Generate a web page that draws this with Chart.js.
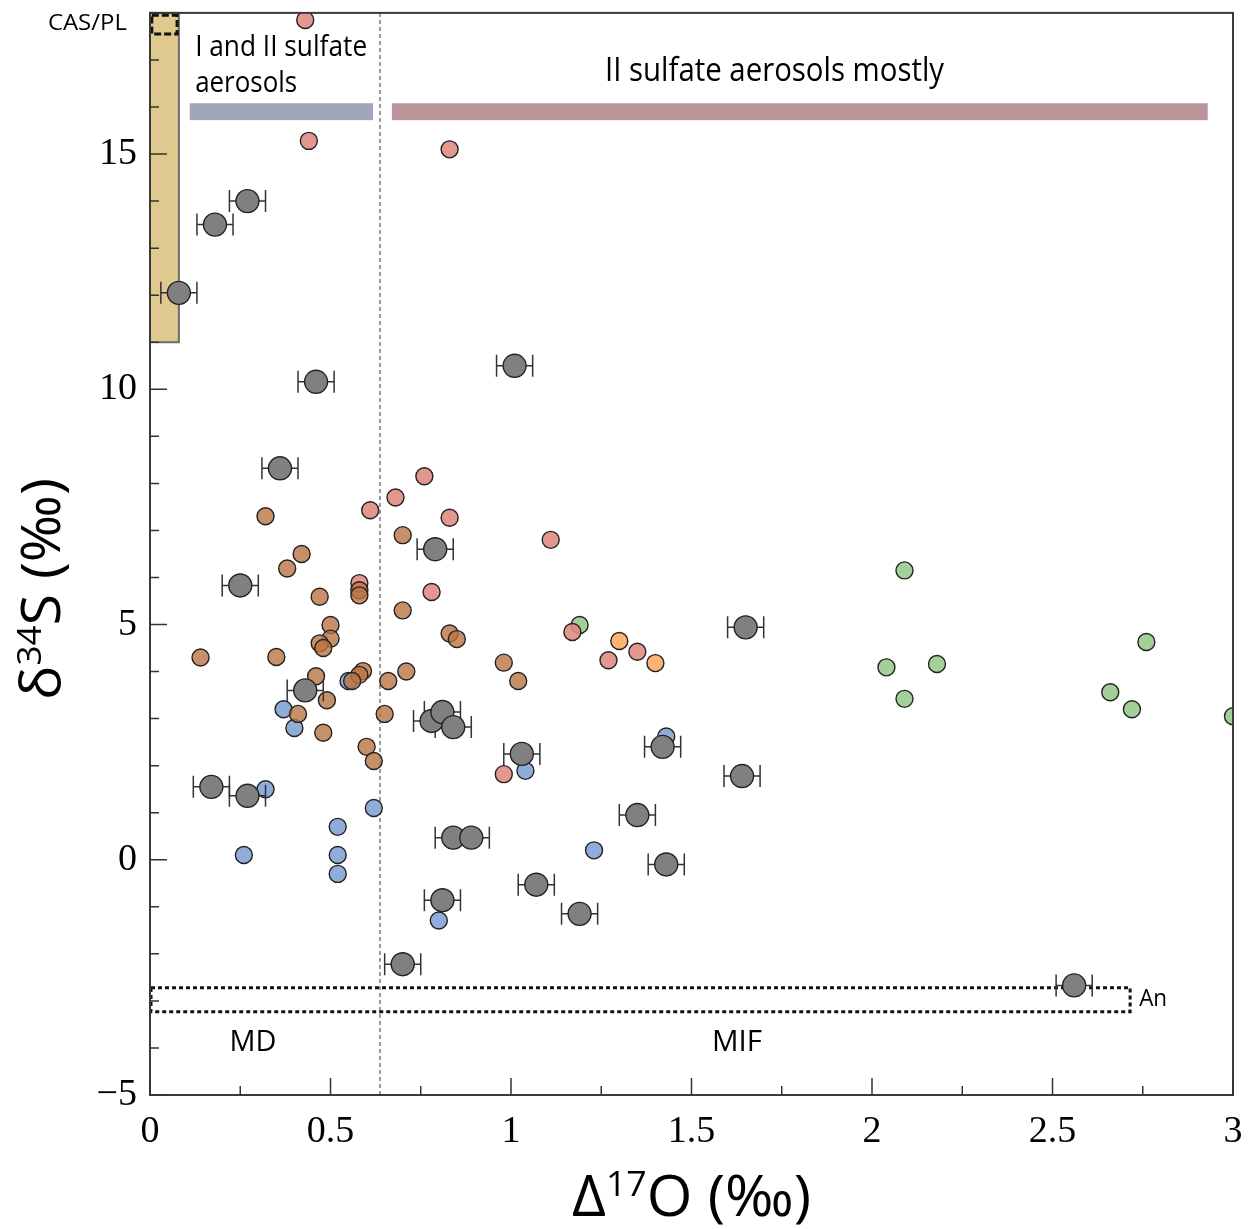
<!DOCTYPE html>
<html>
<head>
<meta charset="utf-8">
<script src="https://cdn.jsdelivr.net/npm/chart.js@4.4.1/dist/chart.umd.min.js"></script>
<style>
    html, body { margin: 0; padding: 0; background: #fff; }
</style>
</head>
<body>
<canvas id="isotope-chart" width="1250" height="1229"></canvas>
<script>
// axis ranges
const xMin = 0, xMax = 3
const yMin = -5, yMax = 18

// bulk samples with error bars (grey)
const greyX = [0.08, 0.18, 0.27, 0.46, 0.36, 0.25, 0.79, 0.43, 0.17, 0.27, 1.01, 1.65, 0.78, 0.81, 0.84, 1.03, 1.42, 1.64, 1.35, 0.84, 0.89, 1.43, 1.07, 1.19, 0.81, 0.70, 2.56]
const greyY = [12.05, 13.5, 14.0, 10.16, 8.32, 5.83, 6.6, 3.6, 1.55, 1.36, 10.5, 4.94, 2.95, 3.14, 2.82, 2.25, 2.40, 1.78, 0.95, 0.47, 0.47, -0.1, -0.53, -1.15, -0.86, -2.22, -2.67]
const greyErr = 0.05

const brownX = [0.32, 0.70, 0.42, 0.38, 0.47, 0.58, 0.58, 0.70, 0.50, 0.50, 0.47, 0.48, 0.14, 0.35, 0.83, 0.85, 0.98, 1.02, 0.71, 0.66, 0.46, 0.59, 0.58, 0.56, 0.49, 0.41, 0.65, 0.48, 0.60, 0.62]
const brownY = [7.30, 6.90, 6.50, 6.19, 5.59, 5.73, 5.62, 5.30, 4.99, 4.70, 4.60, 4.50, 4.30, 4.31, 4.81, 4.69, 4.19, 3.80, 4.00, 3.80, 3.90, 4.01, 3.93, 3.80, 3.39, 3.10, 3.10, 2.70, 2.40, 2.10]

const pinkX = [0.43, 0.44, 0.83, 0.76, 0.68, 0.61, 0.83, 1.11, 0.78, 0.58, 1.17, 1.27, 1.35, 0.98]
const pinkY = [17.85, 15.28, 15.1, 8.15, 7.70, 7.43, 7.27, 6.80, 5.69, 5.88, 4.84, 4.24, 4.42, 1.82]

const orangeX = [1.30, 1.40]
const orangeY = [4.65, 4.18]

const blueX = [0.37, 0.40, 0.32, 0.62, 0.52, 0.26, 0.52, 0.52, 0.80, 0.55, 1.04, 1.43, 1.23]
const blueY = [3.20, 2.80, 1.50, 1.10, 0.70, 0.10, 0.10, -0.30, -1.29, 3.80, 1.89, 2.62, 0.20]

const greenX = [1.19, 2.09, 2.04, 2.18, 2.09, 2.76, 2.66, 2.72, 3.0]
const greenY = [4.99, 6.15, 4.09, 4.16, 3.42, 4.63, 3.56, 3.20, 3.05]

// shaded bands / boxes in data units
const casBand = {x0: 0, x1: 0.08, y0: 11.0, y1: 18}
const casBox = {x0: 0.005, x1: 0.075, y0: 17.55, y1: 17.95}
const aerosolBands = [
    {x0: 0.11, x1: 0.618, y0: 15.72, y1: 16.08, color: '#9ea8ba'},
    {x0: 0.67, x1: 2.93, y0: 15.72, y1: 16.08, color: '#b9959a'}
]
const dividerX = 0.637
const anBox = {x0: 0, x1: 2.715, y0: -3.23, y1: -2.72}

// text notes, anchored in data units
const notes = [
    {text: 'CAS/PL', x: -0.064, y: 17.78, align: 'right', size: 22, w: 79},
    {text: 'I and II sulfate', x: 0.125, y: 17.25, align: 'left', size: 29, w: 172},
    {text: 'aerosols', x: 0.125, y: 16.49, align: 'left', size: 29, w: 102},
    {text: 'II sulfate aerosols mostly', x: 1.73, y: 16.76, align: 'center', size: 33, w: 339},
    {text: 'MD', x: 0.285, y: -3.88, align: 'center', size: 29, w: 47},
    {text: 'MIF', x: 1.626, y: -3.88, align: 'center', size: 29, w: 50},
    {text: 'An', x: 2.74, y: -2.97, align: 'left', size: 24, w: 28}
]

const toPoints = (xs, ys) => xs.map((x, i) => ({x: x, y: ys[i]}))

const sans = '"Open Sans", "Noto Sans", sans-serif'

const rectPx = function (chart, r) {
    const xs = chart.scales.x, ys = chart.scales.y
    const l = xs.getPixelForValue(r.x0), rgt = xs.getPixelForValue(r.x1)
    const t = ys.getPixelForValue(r.y1), b = ys.getPixelForValue(r.y0)
    return [l, t, rgt - l, b - t]
}

// draws a run of text parts squeezed to a target width
const drawRich = function (ctx, parts, x, y, targetW, align) {
    let natural = 0
    parts.forEach(p => {
        ctx.font = p.size + 'px ' + sans
        natural += ctx.measureText(p.text).width
    })
    const sx = targetW ? targetW / natural : 1
    const w = natural * sx
    let start = x
    if (align === 'center') start = x - w / 2
    else if (align === 'right') start = x - w
    ctx.save()
    ctx.translate(start, y)
    ctx.scale(sx, 1)
    ctx.textAlign = 'left'
    ctx.textBaseline = 'middle'
    let cx = 0
    parts.forEach(p => {
        ctx.font = p.size + 'px ' + sans
        ctx.fillText(p.text, cx, p.dy || 0)
        cx += ctx.measureText(p.text).width
    })
    ctx.restore()
}

const overlay = {
    id: 'overlay',
    beforeDatasetsDraw(chart) {
        const ctx = chart.ctx, a = chart.chartArea
        ctx.save()
        // CAS/PL band
        let r = rectPx(chart, casBand)
        ctx.fillStyle = '#dfc98e'
        ctx.fillRect(r[0], r[1], r[2], r[3])
        ctx.strokeStyle = '#6b6b6b'
        ctx.lineWidth = 2
        ctx.strokeRect(r[0], r[1], r[2], r[3])
        // aerosol bands
        aerosolBands.forEach(b => {
            const q = rectPx(chart, b)
            ctx.fillStyle = b.color
            ctx.fillRect(q[0], q[1], q[2], q[3])
        })
        // divider
        const dx = chart.scales.x.getPixelForValue(dividerX)
        ctx.strokeStyle = '#9a9a9a'
        ctx.lineWidth = 2
        ctx.setLineDash([4, 3])
        ctx.beginPath()
        ctx.moveTo(dx, a.top)
        ctx.lineTo(dx, a.bottom)
        ctx.stroke()
        // An box
        r = rectPx(chart, anBox)
        ctx.strokeStyle = '#111'
        ctx.lineWidth = 3
        ctx.setLineDash([4, 3])
        ctx.strokeRect(r[0] + 1, r[1], r[2] - 1, r[3])
        // CAS/PL small dashed box
        r = rectPx(chart, casBox)
        ctx.setLineDash([7, 3])
        ctx.strokeRect(r[0], r[1], r[2], r[3])
        ctx.restore()
    },
    beforeDatasetDraw(chart, args) {
        if (args.index !== 0) return
        const ctx = chart.ctx, xs = chart.scales.x, ys = chart.scales.y
        ctx.save()
        ctx.strokeStyle = '#333'
        ctx.lineWidth = 1.5
        greyX.forEach((x, i) => {
            const l = xs.getPixelForValue(x - greyErr)
            const rgt = xs.getPixelForValue(x + greyErr)
            const y = ys.getPixelForValue(greyY[i])
            ctx.beginPath()
            ctx.moveTo(l, y); ctx.lineTo(rgt, y)
            ctx.moveTo(l, y - 11); ctx.lineTo(l, y + 11)
            ctx.moveTo(rgt, y - 11); ctx.lineTo(rgt, y + 11)
            ctx.stroke()
        })
        ctx.restore()
    },
    afterDraw(chart) {
        const ctx = chart.ctx, a = chart.chartArea
        const xs = chart.scales.x, ys = chart.scales.y
        ctx.save()
        // frame
        ctx.strokeStyle = '#3a3a3a'
        ctx.lineWidth = 2
        ctx.strokeRect(a.left, a.top, a.right - a.left, a.bottom - a.top)
        // inward ticks
        ctx.lineWidth = 1.5
        ctx.strokeStyle = '#333'
        ctx.beginPath()
        ys.ticks.forEach(t => {
            const y = ys.getPixelForValue(t.value)
            const len = t.value % 5 === 0 ? 17 : 9
            ctx.moveTo(a.left, y); ctx.lineTo(a.left + len, y)
        })
        xs.ticks.forEach(t => {
            const x = xs.getPixelForValue(t.value)
            const major = Math.abs(t.value * 2 - Math.round(t.value * 2)) < 1e-9
            const len = major ? 17 : 9
            ctx.moveTo(x, a.bottom); ctx.lineTo(x, a.bottom - len)
        })
        ctx.stroke()
        // notes
        ctx.fillStyle = '#000'
        notes.forEach(n => {
            drawRich(ctx, [{text: n.text, size: n.size}], xs.getPixelForValue(n.x), ys.getPixelForValue(n.y), n.w, n.align)
        })
        // axis titles
        drawRich(ctx, [
            {text: '\u0394', size: 56},
            {text: '17', size: 34, dy: -14},
            {text: 'O (\u2030)', size: 56}
        ], (a.left + a.right) / 2, 1200, 239, 'center')
        ctx.save()
        ctx.translate(45, 589)
        ctx.rotate(-Math.PI / 2)
        drawRich(ctx, [
            {text: '\u03b4', size: 54},
            {text: '34', size: 33, dy: -13},
            {text: 'S (\u2030)', size: 54}
        ], 0, 0, 222, 'center')
        ctx.restore()
        ctx.restore()
    }
}

const pointSet = function (label, xs, ys, fill, radius) {
    return {
        label: label,
        data: toPoints(xs, ys),
        pointRadius: radius,
        pointBackgroundColor: fill,
        pointBorderColor: '#222',
        pointBorderWidth: 1.4,
        showLine: false
    }
}

const chart = new Chart(document.getElementById('isotope-chart'), {
    type: 'scatter',
    data: {
        datasets: [
            pointSet('Bulk', greyX, greyY, '#808080', 11.5),
            pointSet('Brown', brownX, brownY, 'rgba(186,116,66,0.8)', 8.5),
            pointSet('Orange', orangeX, orangeY, 'rgba(253,176,108,0.95)', 8.5),
            pointSet('Pink', pinkX, pinkY, 'rgba(224,140,130,0.9)', 8.5),
            pointSet('Blue', blueX, blueY, 'rgba(138,168,214,0.95)', 8.5),
            pointSet('Green', greenX, greenY, 'rgba(158,206,146,0.95)', 8.5)
        ]
    },
    options: {
        responsive: false,
        animation: false,
        events: [],
        layout: {
            padding: {top: 12, right: 17, left: 0, bottom: 0}
        },
        plugins: {
            legend: {display: false},
            tooltip: {enabled: false}
        },
        scales: {
            x: {
                type: 'linear',
                min: xMin,
                max: xMax,
                afterFit: s => {
                    s.height = 134
                    s.paddingLeft = 0
                    s.paddingRight = 0
                },
                grid: {display: false, drawTicks: false},
                border: {display: false},
                ticks: {
                    stepSize: 0.25,
                    autoSkip: false,
                    maxRotation: 0,
                    padding: 14,
                    color: '#000',
                    font: {family: '"Liberation Serif", serif', size: 38},
                    callback: v => Math.abs(v * 2 - Math.round(v * 2)) < 1e-9 ? String(v) : ''
                }
            },
            y: {
                type: 'linear',
                min: yMin,
                max: yMax,
                afterFit: s => {
                    s.width = 150
                    s.paddingTop = 0
                    s.paddingBottom = 0
                },
                grid: {display: false, drawTicks: false},
                border: {display: false},
                ticks: {
                    stepSize: 1,
                    autoSkip: false,
                    padding: 13,
                    color: '#000',
                    font: {family: '"Liberation Serif", serif', size: 38},
                    callback: v => v % 5 === 0 ? (v < 0 ? '\u2212' + Math.abs(v) : String(v)) : ''
                }
            }
        }
    },
    plugins: [overlay]
})
</script>
</body>
</html>
